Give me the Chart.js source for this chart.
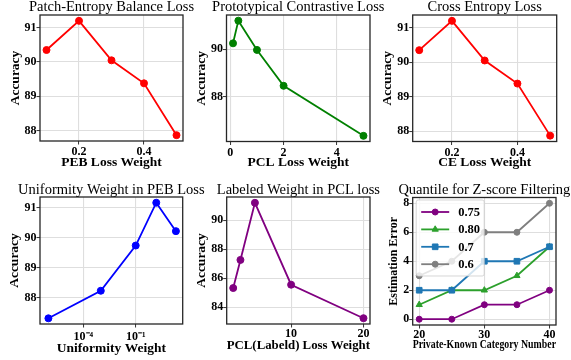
<!DOCTYPE html>
<html>
<head>
<meta charset="utf-8">
<script src="https://cdn.jsdelivr.net/npm/chart.js@4.4.1/dist/chart.umd.min.js"></script>
<style>
  html, body { margin: 0; padding: 0; background: #fff; }
  #wrap { position: relative; width: 571px; height: 360px; overflow: hidden; }
  #wrap canvas { position: absolute; left: 0; top: 0; }
</style>
</head>
<body>
<div id="wrap">
  <canvas id="c1" width="571" height="360"></canvas>
  <canvas id="c2" width="571" height="360"></canvas>
  <canvas id="c3" width="571" height="360"></canvas>
  <canvas id="c4" width="571" height="360"></canvas>
  <canvas id="c5" width="571" height="360"></canvas>
  <canvas id="c6" width="571" height="360"></canvas>
</div>
<script>
// --- data ---
const pebWeights = [0.1, 0.2, 0.3, 0.4, 0.5];
const pebAcc = [90.35, 91.2, 90.05, 89.38, 87.87];
const pclWeights = [0.1, 0.3, 1, 2, 5];
const pclAcc = [90.25, 91.21, 89.97, 88.45, 86.33];
const ceWeights = [0.1, 0.2, 0.3, 0.4, 0.5];
const ceAcc = [90.35, 91.2, 90.05, 89.38, 87.87];
const uniWeights = [1e-6, 1e-3, 1e-1, 1.5, 20];
const uniAcc = [87.31, 88.23, 89.74, 91.17, 90.22];
const labWeights = [2, 3, 5, 10, 20];
const labAcc = [85.32, 87.26, 91.2, 85.55, 83.24];
const categoryNums = [20, 25, 30, 35, 40];
const quantiles = ["0.75", "0.80", "0.7", "0.6"];
const err075 = [0, 0, 1, 1, 2];
const err080 = [1, 2, 2, 3, 5];
const err07 = [2, 2, 4, 4, 5];
const err06 = [3, 4, 6, 6, 8];

// tick values / labels
const accTicks4 = [88, 89, 90, 91];
const accTicks2 = [88, 90];
const labAccTicks = [84, 86, 88, 90];
const weightTicks = [0.2, 0.4];
const weightTickLabels = ["0.2", "0.4"];
const pclTicks = [0, 2, 4];
const uniTicks = [1e-4, 1e-1];
const uniTickLabels = ["10\u207B\u2074", "10\u207B\u00B9"];
const labTicks = [10, 20];
const catTicks = [20, 30, 40];
const errTicks = [0, 2, 4, 6, 8];

const SERIF = "'Liberation Serif', 'Times New Roman', serif";
const gridColor = "#dedede";

// frame round the plot area
const framePlugin = {
  id: "frame",
  afterDatasetsDraw(chart) {
    const { ctx, chartArea: a } = chart;
    ctx.save();
    ctx.strokeStyle = "#262626";
    ctx.lineWidth = 1.3;
    ctx.strokeRect(a.left, a.top, a.right - a.left, a.bottom - a.top);
    ctx.restore();
  },
};

// title centred over the plot area
const panelTitle = {
  id: "panelTitle",
  afterDraw(chart, args, opts) {
    const { ctx, chartArea: a } = chart;
    ctx.save();
    ctx.font = "14.5px " + SERIF;
    ctx.fillStyle = "#000";
    ctx.textAlign = "center";
    ctx.textBaseline = "alphabetic";
    ctx.fillText(opts.text, (a.left + a.right) / 2, a.top - opts.gap);
    ctx.restore();
  },
};

// legend drawn inside the upper left corner
const innerLegend = {
  id: "innerLegend",
  afterDatasetsDraw(chart, args, opts) {
    if (!opts.show) return;
    const { ctx, chartArea: a } = chart;
    const x0 = a.left + 3.5, y0 = a.top + 2.5;
    ctx.save();
    ctx.fillStyle = "rgba(255,255,255,0.8)";
    ctx.strokeStyle = "rgba(204,204,204,0.8)";
    ctx.lineWidth = 1;
    ctx.beginPath();
    ctx.roundRect(x0, y0, 68, 76, 2);
    ctx.fill();
    ctx.stroke();
    const items = chart.data.datasets.slice().sort((p, q) => p.legendIndex - q.legendIndex);
    items.forEach((ds, i) => {
      const y = y0 + 12 + i * 17.4;
      ctx.strokeStyle = ds.borderColor;
      ctx.fillStyle = ds.backgroundColor;
      ctx.lineWidth = ds.borderWidth;
      ctx.beginPath();
      ctx.moveTo(x0 + 5, y);
      ctx.lineTo(x0 + 33, y);
      ctx.stroke();
      ctx.lineWidth = 1;
      Chart.helpers.drawPoint(ctx, { pointStyle: ds.pointStyle, radius: ds.pointRadius, rotation: 0, borderWidth: 1 }, x0 + 19, y);
      ctx.fillStyle = "#000";
      ctx.font = "bold 12.5px " + SERIF;
      ctx.textAlign = "left";
      ctx.textBaseline = "middle";
      ctx.fillText(ds.label, x0 + 42, y + 0.5);
    });
    ctx.restore();
  },
};

function pts(xs, ys) {
  return xs.map((x, i) => ({ x: x, y: ys[i] }));
}

function lineSet(label, xs, ys, color, style, r, order, legendIndex) {
  return {
    label: label,
    data: pts(xs, ys),
    borderColor: color,
    backgroundColor: color,
    borderWidth: 1.8,
    pointStyle: style,
    pointRadius: r,
    pointHoverRadius: r,
    pointBorderWidth: 1,
    tension: 0,
    clip: false,
    order: order,
    legendIndex: legendIndex,
  };
}

function panel(id, p) {
  const labSize = p.labSize || 13.5;
  const lh = labSize * 1.2;
  const yLeft = p.yTitleX - lh / 2;
  const xBottom = p.xTitleY + lh / 2;
  const tickFont = { family: SERIF, size: 12, weight: "bold", lineHeight: 1 };
  const labFont = { family: SERIF, size: labSize, weight: "bold", lineHeight: 1.2 };
  const grid = { color: gridColor, lineWidth: 1.1, tickColor: "#333", tickLength: 3.5, tickWidth: 1 };

  new Chart(document.getElementById(id).getContext("2d"), {
    type: "line",
    data: { datasets: p.datasets },
    plugins: [framePlugin, panelTitle, innerLegend],
    options: {
      responsive: false,
      animation: false,
      events: [],
      layout: {
        padding: { left: yLeft, top: p.box.t, right: 571 - p.box.r, bottom: 360 - xBottom },
      },
      plugins: {
        legend: { display: false },
        tooltip: { enabled: false },
        panelTitle: { text: p.title, gap: p.titleGap },
        innerLegend: { show: !!p.legend },
      },
      scales: {
        x: {
          type: p.xType || "linear",
          min: p.xMin,
          max: p.xMax,
          afterBuildTicks: (s) => { s.ticks = p.xTicks.map((v) => ({ value: v })); },
          afterFit: (s) => { s.height = xBottom - p.box.b; },
          ticks: {
            callback: (v, i) => p.xTickLabels[i],
            font: tickFont, color: "#000", padding: p.xTickPad || 0,
            autoSkip: false, maxRotation: 0, minRotation: 0,
          },
          grid: grid,
          border: { display: false },
          title: { display: true, text: p.xLabel, font: labFont, color: "#000", padding: 0 },
        },
        y: {
          type: "linear",
          min: p.yMin,
          max: p.yMax,
          afterBuildTicks: (s) => { s.ticks = p.yTicks.map((v) => ({ value: v })); },
          afterFit: (s) => { s.width = p.box.l - yLeft; },
          ticks: {
            callback: (v) => String(v),
            font: tickFont, color: "#000", padding: 0, autoSkip: false,
          },
          grid: grid,
          border: { display: false },
          title: { display: true, text: p.yLabel, font: labFont, color: "#000", padding: 0 },
        },
      },
    },
  });
}

panel("c1", {
  title: "Patch-Entropy Balance Loss", titleGap: 4.5,
  box: { l: 40, r: 183, t: 15, b: 141 }, yTitleX: 15.3, xTitleY: 163, xTickPad: 1.5,
  xMin: 0.08, xMax: 0.52, xTicks: weightTicks, xTickLabels: weightTickLabels,
  yMin: 87.70, yMax: 91.37, yTicks: accTicks4,
  xLabel: "PEB Loss Weight", yLabel: "Accuracy",
  datasets: [lineSet("PEB", pebWeights, pebAcc, "#ff0000", "circle", 3.5, 0, 0)],
});

panel("c2", {
  title: "Prototypical Contrastive Loss", titleGap: 4.5,
  box: { l: 226.5, r: 370, t: 15, b: 141.5 }, yTitleX: 201.7, xTitleY: 163, xTickPad: 1.5,
  xMin: -0.145, xMax: 5.245, xTicks: pclTicks, xTickLabels: pclTicks.map(String),
  yMin: 86.09, yMax: 91.45, yTicks: accTicks2,
  xLabel: "PCL Loss Weight", yLabel: "Accuracy",
  datasets: [lineSet("PCL", pclWeights, pclAcc, "#008000", "circle", 3.5, 0, 0)],
});

panel("c3", {
  title: "Cross Entropy Loss", titleGap: 4.5,
  box: { l: 412.7, r: 556.7, t: 15, b: 141.5 }, yTitleX: 387.5, xTitleY: 163, xTickPad: 1.5,
  xMin: 0.08, xMax: 0.52, xTicks: weightTicks, xTickLabels: weightTickLabels,
  yMin: 87.70, yMax: 91.37, yTicks: accTicks4,
  xLabel: "CE Loss Weight", yLabel: "Accuracy",
  datasets: [lineSet("CE", ceWeights, ceAcc, "#ff0000", "circle", 3.5, 0, 0)],
});

panel("c4", {
  title: "Uniformity Weight in PEB Loss", titleGap: 3,
  box: { l: 40, r: 182.7, t: 197, b: 324 }, yTitleX: 15, xTitleY: 349,
  xType: "logarithmic", xMin: 3.3e-7, xMax: 49, xTicks: uniTicks, xTickLabels: uniTickLabels, xTickPad: 3.5,
  yMin: 87.12, yMax: 91.36, yTicks: accTicks4,
  xLabel: "Uniformity Weight", yLabel: "Accuracy",
  datasets: [lineSet("Uniformity", uniWeights, uniAcc, "#0000ff", "circle", 3.5, 0, 0)],
});

panel("c5", {
  title: "Labeled Weight in PCL loss", titleGap: 3,
  box: { l: 226.7, r: 370, t: 197, b: 324 }, yTitleX: 201.7, xTitleY: 345.5, xTickPad: 0.5,
  xMin: 1.1, xMax: 20.9, xTicks: labTicks, xTickLabels: labTicks.map(String),
  yMin: 82.84, yMax: 91.6, yTicks: labAccTicks,
  xLabel: "PCL(Labeld) Loss Weight", yLabel: "Accuracy",
  datasets: [lineSet("Labeled", labWeights, labAcc, "#800080", "circle", 3.5, 0, 0)],
});

panel("c6", {
  title: "Quantile for Z-score Filtering", titleGap: 3.5, labSize: 12, legend: true,
  box: { l: 412.7, r: 556, t: 197.5, b: 325 }, yTitleX: 394, xTitleY: 344.5,
  xMin: 19, xMax: 41, xTicks: catTicks, xTickLabels: catTicks.map(String),
  yMin: -0.4, yMax: 8.4, yTicks: errTicks,
  xLabel: "Private-Known Category Number", yLabel: "Estimation Error",
  datasets: [
    lineSet(quantiles[0], categoryNums, err075, "#800080", "circle", 3, 4, 0),
    lineSet(quantiles[1], categoryNums, err080, "#2ca02c", "triangle", 3.6, 3, 1),
    lineSet(quantiles[2], categoryNums, err07, "#1f77b4", "rect", 4, 2, 2),
    lineSet(quantiles[3], categoryNums, err06, "#7f7f7f", "circle", 3, 1, 3),
  ],
});
</script>
</body>
</html>
